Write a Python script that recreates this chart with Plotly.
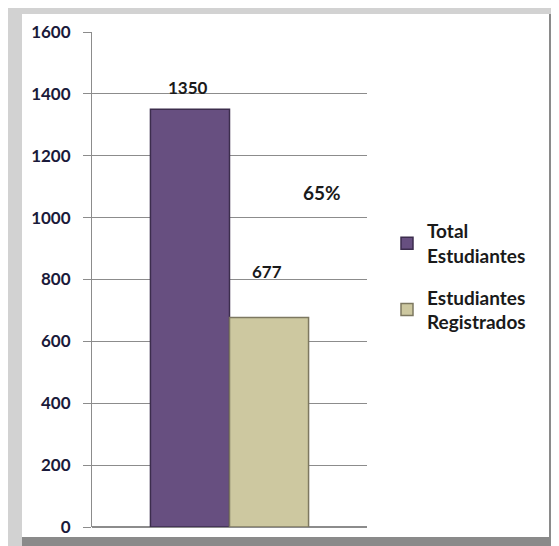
import plotly.graph_objects as go

# data
categories = ["Estudiantes"]
series_names = ["Total<br>Estudiantes", "Estudiantes<br>Registrados"]
series_values = [[1350], [677]]
series_colors = ["#674f80", "#cdc8a0"]
line_colors = ["#3c2d4d", "#7d7860"]
percent_label = "65%"
percent_value = 1080
y_ticks = [0, 200, 400, 600, 800, 1000, 1200, 1400, 1600]

# page body has an 8px margin, so work in figure pixels = reference - 8
OFF = 8
W, H = 559 - OFF, 546 - OFF
L, R, T, B = 92 - OFF, 367 - OFF, 32 - OFF, 527 - OFF


def px_x(p):
    return (p - OFF - L) / (R - L)


def px_y(p):
    return (B - (p - OFF)) / (B - T)


fig = go.Figure()
for i, (name, vals, col, lc) in enumerate(zip(series_names, series_values, series_colors, line_colors)):
    fig.add_trace(go.Bar(
        x=categories, y=vals, name=name, legendgroup="g%d" % i,
        marker=dict(color=col, line=dict(color=lc, width=1.5)),
    ))

# value labels
shifts = [(-42, 22), (37, 46)]
for vals, (xs, ys) in zip(series_values, shifts):
    fig.add_annotation(x=categories[0], y=vals[0], xref="x", yref="y",
                       text=str(vals[0]), showarrow=False, xshift=xs, yshift=ys,
                       xanchor="center",
                       font=dict(size=17, color="#1a1a1a", family="Lato"))
fig.add_annotation(x=px_x(322), y=percent_value, xref="paper", yref="y",
                   text="<b>" + percent_label + "</b>", showarrow=False,
                   xanchor="center",
                   font=dict(size=19, color="#1a1a1a", family="Lato"))

# frame
shapes = [
    dict(type="rect", xref="paper", yref="paper", layer="below",
         x0=px_x(8), x1=px_x(556), y0=px_y(546), y1=px_y(8),
         fillcolor="#d2d2d2", line=dict(width=0)),
    dict(type="rect", xref="paper", yref="paper", layer="below",
         x0=px_x(22), x1=px_x(556), y0=px_y(546), y1=px_y(537),
         fillcolor="#8a8a8a", line=dict(width=0)),
    dict(type="rect", xref="paper", yref="paper", layer="below",
         x0=px_x(549), x1=px_x(556), y0=px_y(546), y1=px_y(14),
         fillcolor="#8a8a8a", line=dict(width=0)),
    dict(type="rect", xref="paper", yref="paper", layer="below",
         x0=px_x(22), x1=px_x(549), y0=px_y(537), y1=px_y(14),
         fillcolor="white", line=dict(width=0)),
]

fig.update_layout(
    width=W, height=H,
    margin=dict(l=L, r=W - R, t=T, b=H - B, autoexpand=False),
    paper_bgcolor="white", plot_bgcolor="rgba(0,0,0,0)",
    barmode="group", bargap=0.425, bargroupgap=0,
    shapes=shapes,
    showlegend=True,
    legend=dict(x=px_x(387), y=px_y(212), xanchor="left", yanchor="top",
                font=dict(size=19, color="#1a1a1a", family="Lato", weight="bold"),
                bgcolor="rgba(0,0,0,0)", traceorder="grouped", tracegroupgap=14),
    font=dict(family="Lato"),
)
fig.update_xaxes(showticklabels=False, showgrid=False, zeroline=False, showline=False)
fig.update_yaxes(range=[0, 1600], tickvals=y_ticks, showgrid=True, gridcolor="#8c8c8c",
                 gridwidth=1, zeroline=True, zerolinecolor="#8c8c8c", showline=True,
                 linecolor="#8c8c8c", linewidth=1, ticks="outside", ticklen=8,
                 tickcolor="#8c8c8c", ticklabelstandoff=9,
                 tickfont=dict(size=17, color="#1a1a3a", family="Lato", weight="bold"))
for a in fig.layout.annotations:
    a.font.weight = "bold"

fig.write_html("out.html")
